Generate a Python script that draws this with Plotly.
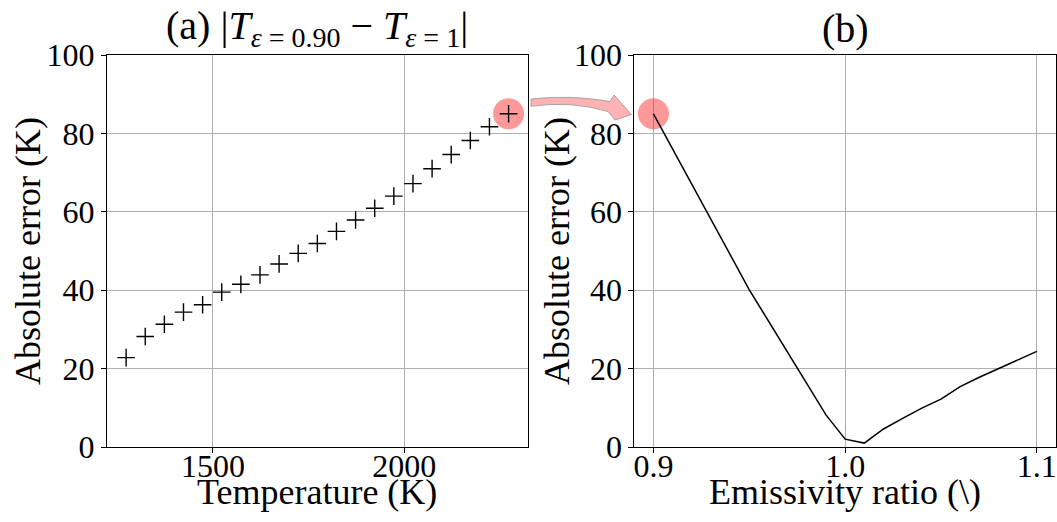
import plotly.graph_objects as go

# ---- data ----
temperature_K = [1273, 1323, 1373, 1423, 1473, 1523, 1573, 1623, 1673, 1723, 1773,
                 1823, 1873, 1923, 1973, 2023, 2073, 2123, 2173, 2223, 2273]
abs_err_a = [22.8, 28.2, 31.3, 34.4, 36.3, 39.5, 41.5, 43.9, 46.7, 49.4, 51.9,
             55.0, 57.9, 60.9, 64.0, 67.2, 71.0, 74.6, 78.2, 81.7, 85.0]

emissivity_ratio = [0.90, 0.95, 0.99, 1.00, 1.01, 1.02, 1.03, 1.04, 1.05, 1.06,
                    1.07, 1.08, 1.09, 1.10]
abs_err_b = [85.0, 40.1, 8.2, 2.0, 1.0, 4.6, 7.3, 9.9, 12.2, 15.4, 17.8, 20.0, 22.3, 24.4]

yticks = [0, 20, 40, 60, 80, 100]
xticks_a = [1500, 2000]
xticks_b = [0.9, 1.0, 1.1]
xticklabels_b = ["0.9", "1.0", "1.1"]

# ---- geometry ----
W, H = 1057, 522
ML, MR, MT, MB = 107, 1, 55, 75
PW, PH = W - ML - MR, H - MT - MB


def px_x(x):
    return (x - ML) / PW


def px_y(y):
    return 1 - (y - MT) / PH


FONT = "Liberation Serif, Times New Roman, serif"
GRID = "#b0b0b0"

fig = go.Figure()

# highlight circles (behind data)
fig.add_trace(go.Scatter(x=[temperature_K[-1]], y=[abs_err_a[-1]], mode="markers",
                         marker=dict(symbol="circle", size=31, color="rgba(255,0,0,0.4)",
                                     line=dict(width=0)),
                         xaxis="x", yaxis="y", showlegend=False, hoverinfo="skip",
                         cliponaxis=False))
fig.add_trace(go.Scatter(x=[emissivity_ratio[0]], y=[abs_err_b[0]], mode="markers",
                         marker=dict(symbol="circle", size=31, color="rgba(255,0,0,0.4)",
                                     line=dict(width=0)),
                         xaxis="x2", yaxis="y2", showlegend=False, hoverinfo="skip",
                         cliponaxis=False))

fig.add_trace(go.Scatter(x=temperature_K, y=abs_err_a, mode="markers",
                         marker=dict(symbol="cross-thin-open", size=12.6,
                                     line=dict(width=1.4, color="black"), color="black"),
                         xaxis="x", yaxis="y", showlegend=False, cliponaxis=False))
fig.add_trace(go.Scatter(x=emissivity_ratio, y=abs_err_b, mode="lines",
                         line=dict(color="black", width=1.5),
                         xaxis="x2", yaxis="y2", showlegend=False))

axis_common = dict(showline=True, linecolor="black", linewidth=1, mirror=True,
                   ticks="outside", ticklen=5, tickwidth=1, tickcolor="black",
                   showgrid=True, gridcolor=GRID, gridwidth=1, zeroline=False,
                   tickfont=dict(family=FONT, size=32, color="black"))

d1 = [0, px_x(527.7)]
d2 = [px_x(634.3), 1]

fig.update_layout(
    width=W, height=H,
    margin=dict(l=ML, r=MR, t=MT, b=MB, autoexpand=False),
    paper_bgcolor="white", plot_bgcolor="white",
    font=dict(family=FONT, color="black"),
    xaxis=dict(domain=d1, range=[1223, 2323], tickvals=xticks_a, anchor="y",
               ticklabelstandoff=-14, **axis_common),
    yaxis=dict(domain=[0, 1], range=[0, 100], tickvals=yticks, anchor="x", **axis_common),
    xaxis2=dict(domain=d2, range=[0.89, 1.11], tickvals=xticks_b, ticktext=xticklabels_b,
                anchor="y2", ticklabelstandoff=-14, **axis_common),
    yaxis2=dict(domain=[0, 1], range=[0, 100], tickvals=yticks, anchor="x2", **axis_common),
)

title_font = dict(family=FONT, size=40, color="black")
ann_font = dict(family=FONT, size=36, color="black")
fig.add_annotation(text="(a) |<i>T</i><sub><i>ε</i> = 0.90</sub> − <i>T</i><sub><i>ε</i> = 1</sub>|",
                   xref="paper", yref="paper", x=(d1[0] + d1[1]) / 2, y=px_y(28),
                   xanchor="center", yanchor="middle", showarrow=False, font=title_font)
fig.add_annotation(text="(b)", xref="paper", yref="paper", x=(d2[0] + d2[1]) / 2, y=px_y(28),
                   xanchor="center", yanchor="middle", showarrow=False, font=title_font)
fig.add_annotation(text="Temperature (K)", xref="paper", yref="paper",
                   x=(d1[0] + d1[1]) / 2, y=px_y(492), xanchor="center", yanchor="middle",
                   showarrow=False, font=ann_font)
fig.add_annotation(text="Emissivity ratio (\\)", xref="paper", yref="paper",
                   x=(d2[0] + d2[1]) / 2, y=px_y(492), xanchor="center", yanchor="middle",
                   showarrow=False, font=ann_font)
fig.add_annotation(text="Absolute error (K)", xref="paper", yref="paper",
                   x=px_x(28), y=0.5, xanchor="center", yanchor="middle", textangle=-90,
                   showarrow=False, font=ann_font)
fig.add_annotation(text="Absolute error (K)", xref="paper", yref="paper",
                   x=px_x(557), y=0.5, xanchor="center", yanchor="middle", textangle=-90,
                   showarrow=False, font=ann_font)

# decorative curved arrow linking the two highlighted points
def P(x, y):
    return f"{px_x(x):.5f},{px_y(y):.5f}"

arrow_path = ("M " + P(531, 99) + " Q " + P(571, 94.5) + " " + P(610, 101.5) +
              " L " + P(614, 95) + " L " + P(631.5, 114.5) + " L " + P(615, 120) +
              " L " + P(608, 111.5) + " Q " + P(571, 100.5) + " " + P(531, 106.3) + " Z")
fig.add_shape(type="path", path=arrow_path, xref="paper", yref="paper",
              fillcolor="rgba(255,0,0,0.3)", line=dict(color="rgba(150,150,150,0.8)", width=1),
              layer="above")

fig.write_html("out.html", config={"displayModeBar": False},
               post_script="document.body.style.margin='0px';document.body.style.padding='0px';")
